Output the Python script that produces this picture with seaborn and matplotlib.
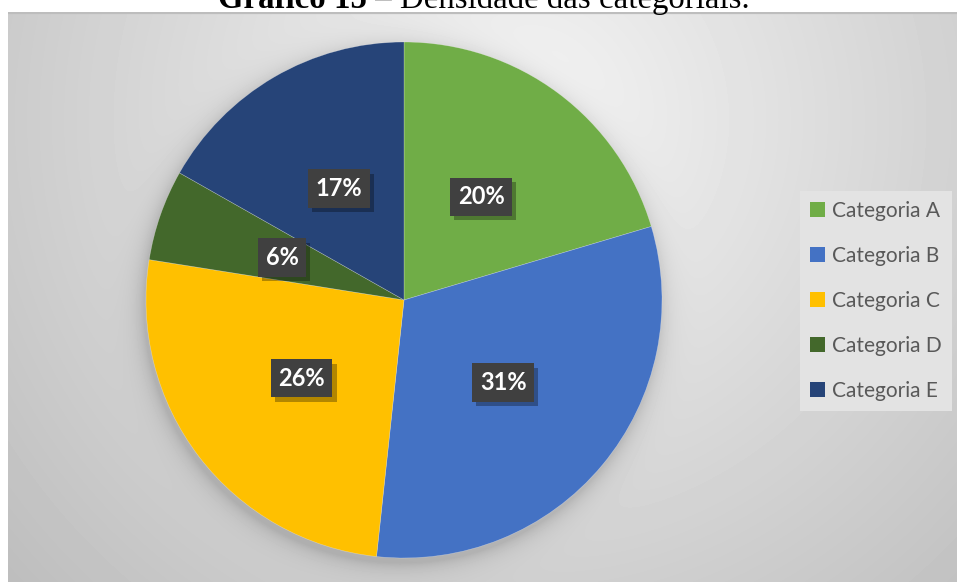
import numpy as np
import matplotlib
matplotlib.use("Agg")
import matplotlib.pyplot as plt
import matplotlib.patheffects as pe
import seaborn as sns
from matplotlib.patches import Patch

# data
categories = ["Categoria A", "Categoria B", "Categoria C", "Categoria D", "Categoria E"]
shares = [20.4, 31.3, 25.8, 5.7, 16.8]
slice_colors = ["#70AD47", "#4472C4", "#FFC000", "#43682B", "#264478"]
title_bold = "Gráfico 15"
title_rest = " – Densidade das categoriais."

sns.set_style("white")
plt.rcParams["font.family"] = ["Lato", "DejaVu Sans"]
palette = sns.color_palette(slice_colors)

W, H = 957, 582
fig = plt.figure(figsize=(W / 100, H / 100), dpi=100)
fig.patch.set_facecolor("white")

# chart panel with soft radial shading and a glow around the pie
x0, y0 = 8, 12
cx, cy, r = 404, 300, 258
bg = fig.add_axes([x0 / W, 0, (W - x0) / W, (H - y0) / H])
xx, yy = np.meshgrid(np.arange(x0, W) + 0.5, np.arange(y0, H) + 0.5)
dist = np.hypot((xx - 520) / 520, (yy - 120) / 520)
light = 245 - 42 * dist
edge = np.hypot(xx - (cx - 2), yy - (cy + 5)) - r
light -= 32 * np.exp(-np.clip(edge, 0, None) / 10)
img = np.clip(light, 0, 255) / 255
bg.imshow(img, cmap="gray", vmin=0, vmax=1, extent=(x0, W, H, y0),
          aspect="auto", interpolation="bilinear")
bg.plot([x0, W], [y0 + 0.8, y0 + 0.8], color="#bdbdbd", lw=1.6)
bg.set_xlim(x0, W)
bg.set_ylim(H, y0)
bg.axis("off")

# pie
ax = fig.add_axes([(cx - r) / W, (H - cy - r) / H, 2 * r / W, 2 * r / H])
ax.set_facecolor("none")
wedges, _, autotexts = ax.pie(
    shares, colors=palette, startangle=90, counterclock=False, radius=1,
    autopct=lambda p: f"{p:.0f}%", pctdistance=0.5,
    wedgeprops=dict(linewidth=0.4, edgecolor="#ffffff60"),
    textprops=dict(color="white", fontsize=17, fontweight="bold"),
)
ax.set_xlim(-1, 1)
ax.set_ylim(-1, 1)
ax.axis("off")

for t in autotexts:
    t.set_bbox(dict(boxstyle="square,pad=0.32", facecolor="#404040", edgecolor="none"))
    t.get_bbox_patch().set_path_effects(
        [pe.SimplePatchShadow(offset=(3, -3), shadow_rgbFace="black", alpha=0.3), pe.Normal()])

# legend
handles = [Patch(facecolor=c, edgecolor="none") for c in palette]
leg = fig.legend(handles, categories, loc="center left",
                 bbox_to_anchor=(800 / W, 1 - 301 / H), fontsize=15,
                 frameon=True, facecolor="#e3e3e3", edgecolor="none", framealpha=1,
                 fancybox=False, handlelength=0.7, handleheight=0.7, handletextpad=0.35,
                 labelspacing=1.2, borderpad=0.5, borderaxespad=0)
for txt in leg.get_texts():
    txt.set_color("#595959")

# title (partly above the panel)
serif = ["Liberation Serif", "DejaVu Serif"]
t1 = fig.text(218 / W, 1 - 8 / H, title_bold, family=serif, fontsize=23.7,
              fontweight="bold", ha="left", va="baseline", color="black")
fig.canvas.draw()
bb = t1.get_window_extent()
fig.text(bb.x1 / W, 1 - 8 / H, title_rest, family=serif, fontsize=23.7,
         ha="left", va="baseline", color="black")

fig.savefig("out.png", dpi=100, facecolor="white")
